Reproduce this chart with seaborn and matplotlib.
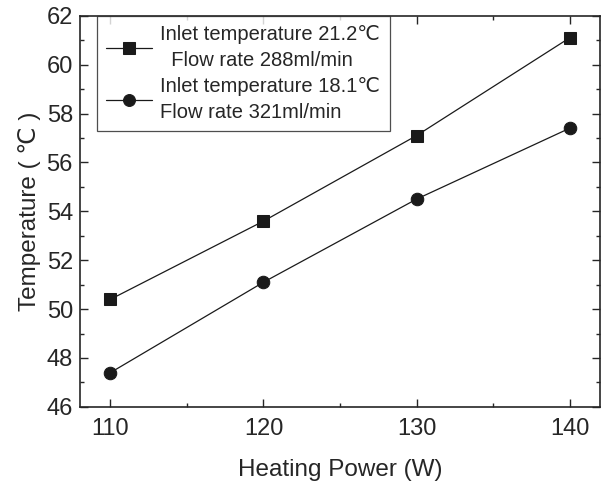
import numpy as np
import pandas as pd
import matplotlib
matplotlib.use("Agg")
import matplotlib.pyplot as plt
import seaborn as sns
from matplotlib.ticker import MultipleLocator

power = [110, 120, 130, 140]
temp_a = [50.4, 53.6, 57.1, 61.1]
temp_b = [47.4, 51.1, 54.5, 57.4]
label_a = "Inlet temperature 21.2\u2103\n  Flow rate 288ml/min"
label_b = "Inlet temperature 18.1\u2103\nFlow rate 321ml/min"

df = pd.DataFrame({
    "power": power * 2,
    "temp": temp_a + temp_b,
    "series": [label_a] * 4 + [label_b] * 4,
})

sns.set_style("ticks")
plt.rcParams['font.family'] = ['Liberation Sans', 'DejaVu Sans']

fig = plt.figure(figsize=(6.05, 4.82), dpi=100)
ax = fig.add_axes([0.132, 0.156, 0.86, 0.811])

sns.lineplot(data=df, x="power", y="temp", hue="series", style="series",
             markers={label_a: "s", label_b: "o"}, dashes=False,
             palette={label_a: "#1a1a1a", label_b: "#1a1a1a"},
             markersize=9, linewidth=0.9, markeredgecolor="#1a1a1a", ax=ax)

ax.set_xlim(108, 142)
ax.set_ylim(46, 62)
ax.xaxis.set_major_locator(MultipleLocator(10))
ax.xaxis.set_minor_locator(MultipleLocator(5))
ax.yaxis.set_major_locator(MultipleLocator(2))
ax.yaxis.set_minor_locator(MultipleLocator(1))
ax.tick_params(which="both", direction="in", top=True, right=True, labelsize=17, width=1)
ax.tick_params(axis="x", pad=8)
ax.tick_params(axis="y", pad=5)
ax.tick_params(which="major", length=6)
ax.tick_params(which="minor", length=3)
for s in ax.spines.values():
    s.set_linewidth(1.2)

ax.set_xlabel("Heating Power (W)", fontsize=17.5, labelpad=14)
ax.set_ylabel("Temperature ( \u2103 )", fontsize=17.5, labelpad=4)

leg = ax.legend(loc="upper left", bbox_to_anchor=(0.033, 1.0), borderaxespad=0,
                fontsize=14.5, frameon=True, fancybox=False, edgecolor="#222222",
                handlelength=2.3, handletextpad=0.4, labelspacing=0.35,
                borderpad=0.45, markerscale=0.95)
leg.get_frame().set_linewidth(0.9)
for t in leg.get_texts():
    t.set_linespacing(1.45)

fig.savefig("out.png", dpi=100)
